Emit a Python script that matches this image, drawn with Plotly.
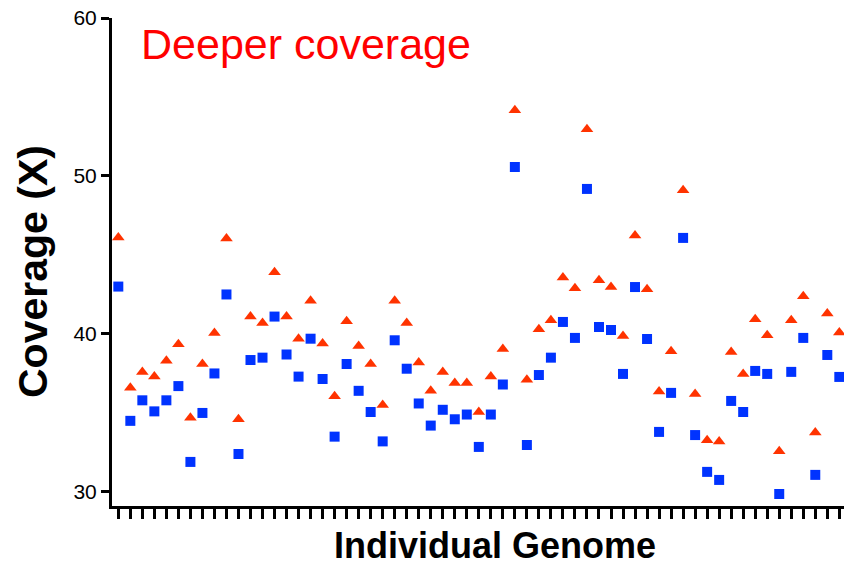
import plotly.graph_objects as go

genome_index = list(range(61))

deeper = [46.1, 36.6, 37.6, 37.3, 38.3, 39.35, 34.7, 38.1, 40.06, 46.04,
          34.6, 41.1, 40.7, 43.9, 41.1, 39.7, 42.1, 39.4, 36.06, 40.8,
          39.24, 38.1, 35.5, 42.1, 40.7, 38.2, 36.4, 37.6, 36.9, 36.9,
          35.06, 37.3, 39.05, 54.16, 37.1, 40.3, 40.87, 43.57, 42.9, 52.96,
          43.4, 42.97, 39.87, 46.23, 42.83, 36.35, 38.9, 49.1, 36.2, 33.27,
          33.19, 38.86, 37.47, 40.93, 39.92, 32.58, 40.87, 42.39, 33.76, 41.29,
          40.1]

baseline = [43.0, 34.5, 35.8, 35.1, 35.8, 36.7, 31.9, 35.0, 37.5, 42.5,
            32.4, 38.35, 38.5, 41.1, 38.7, 37.3, 39.7, 37.15, 33.5, 38.1,
            36.4, 35.06, 33.2, 39.6, 37.8, 35.6, 34.2, 35.2, 34.6, 34.9,
            32.85, 34.9, 36.8, 50.57, 32.97, 37.4, 38.5, 40.76, 39.75, 49.18,
            40.44, 40.25, 37.47, 42.97, 39.68, 33.8, 36.27, 46.08, 33.6, 31.27,
            30.76, 35.76, 35.06, 37.66, 37.47, 29.87, 37.6, 39.75, 31.08, 38.67,
            37.28]

y_ticks = [30, 40, 50, 60]

fig = go.Figure()
fig.add_trace(go.Scatter(
    x=genome_index, y=deeper, mode="markers",
    marker=dict(symbol="triangle-up", size=11, color="#ff3300"),
    showlegend=False, cliponaxis=False))
fig.add_trace(go.Scatter(
    x=genome_index, y=baseline, mode="markers",
    marker=dict(symbol="square", size=10, color="#0033ff"),
    showlegend=False, cliponaxis=False))

fig.update_layout(
    width=844, height=568,
    margin=dict(l=112, r=0, t=18, b=62),
    paper_bgcolor="white", plot_bgcolor="white",
    font=dict(family="Liberation Sans, Arial, sans-serif", color="black"),
    xaxis=dict(range=[-0.525, 60.39], showgrid=False, zeroline=False,
               showline=True, linecolor="black", linewidth=3,
               tickmode="array", tickvals=genome_index, showticklabels=False,
               ticks="outside", ticklen=10, tickwidth=3, tickcolor="black"),
    yaxis=dict(range=[29.11, 60], showgrid=False, zeroline=False,
               showline=True, linecolor="black", linewidth=3,
               tickmode="array", tickvals=y_ticks,
               ticks="outside", ticklen=8, tickwidth=3, tickcolor="black",
               tickfont=dict(size=21, color="black")),
    annotations=[
        dict(text="Deeper coverage", xref="paper", yref="paper",
             x=(139 - 112) / 732, y=(568 - 62 - 44) / 488,
             xanchor="left", yanchor="middle", showarrow=False,
             font=dict(size=43, color="#ff0000",
                       family="Liberation Sans, Arial, sans-serif")),
        dict(text="<b>Individual Genome</b>", xref="paper", yref="paper",
             x=(495 - 112) / 732, y=-(545 - 506) / 488,
             xanchor="center", yanchor="middle", showarrow=False,
             font=dict(size=36, color="black")),
        dict(text="<b>Coverage (X)</b>", xref="paper", yref="paper",
             x=-(112 - 33) / 732, y=(506 - 272) / 488, textangle=-90,
             xanchor="center", yanchor="middle", showarrow=False,
             font=dict(size=41, color="black")),
    ],
)

fig.write_html("out.html")
